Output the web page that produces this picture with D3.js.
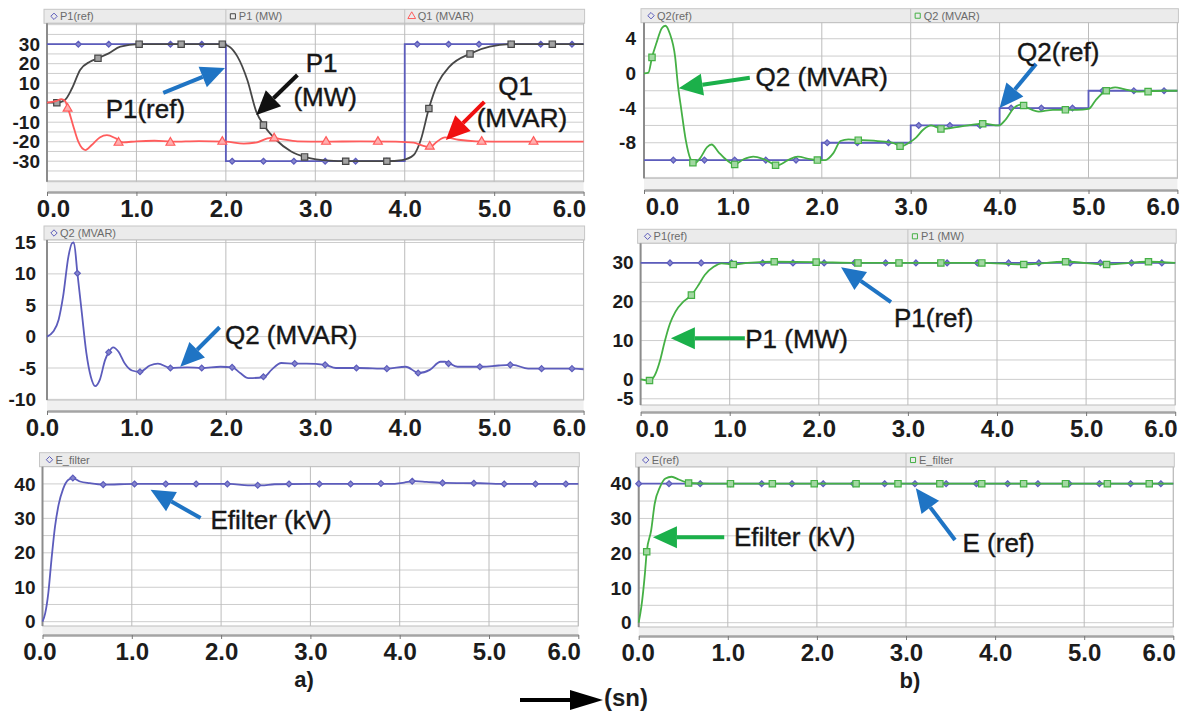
<!DOCTYPE html>
<html>
<head>
<meta charset="utf-8">
<title>P1 / Q1 / Q2 / E_filter</title>
<style>
    body { margin: 0; background: #fff; }
    svg { display: block; font-family: "Liberation Sans", Arial, sans-serif; }
    .xaxis .domain { stroke: #a4a4a4; stroke-width: 2.5; }
    .xaxis .tick line { stroke: #777; }
    .xaxis text { font-size: 24px; font-weight: bold; fill: #1c1c1c; }
    .yaxis .domain { display: none; }
    .yaxis text { font-size: 19px; font-weight: bold; fill: #1c1c1c; }
    .legend text { font-size: 11px; fill: #6a6a6a; }
    .note { font-size: 26px; fill: #161616; stroke: #161616; stroke-width: 0.4; }
</style>
</head>
<body>
<script src="https://d3js.org/d3.v7.min.js"></script>
<script>
// time axis (s)
var timeTicks = [0, 1, 2, 3, 4, 5, 6];
var timeLabels = ["0.0", "1.0", "2.0", "3.0", "4.0", "5.0", "6.0"];

// a) top: P1(ref), P1 (MW), Q1 (MVAR)
var ticksA1 = [30, 20, 10, 0, -10, -20, -30];
var p1RefA = [[0, 30], [2, -30], [4, 30], [6, 30]];
var p1RefAMarks = [[0.35, 30], [0.69, 30], [1.04, 30], [1.38, 30], [1.73, 30], [2.07, -30], [2.42, -30], [2.76, -30],
    [3.11, -30], [3.45, -30], [3.8, -30], [4.14, 30], [4.49, 30], [4.83, 30], [5.18, 30], [5.52, 30], [5.87, 30]];
var p1MwA = [[0, 0], [0.11, 0], [0.2, 1.4], [0.28, 7.4], [0.37, 16.8], [0.48, 21], [0.57, 22.8], [0.69, 25.3],
    [0.82, 28.7], [1.02, 30], [1.5, 30], [1.96, 30], [2.04, 28.7], [2.13, 23.6], [2.24, 11.6], [2.34, -4.6],
    [2.43, -12], [2.56, -19], [2.73, -25], [2.9, -28], [3.16, -29.7], [3.35, -30], [3.8, -30], [3.97, -29.4],
    [4.1, -26.8], [4.18, -19], [4.27, -3], [4.37, 10], [4.5, 18.5], [4.74, 25.3], [4.95, 28.7], [5.21, 30], [6, 30]];
var p1MwAMarks = [[0.11, 0], [0.57, 22.8], [1.03, 30], [1.5, 30], [1.96, 30], [2.42, -11.5], [2.88, -27.8],
    [3.34, -30], [3.8, -30], [4.27, -3], [4.73, 25], [5.19, 30], [5.65, 30]];
var q1A = [[0, 0], [0.1, 0.8], [0.16, 1.8], [0.2, 1], [0.24, -3.7], [0.29, -11.4], [0.35, -20], [0.43, -24.3],
    [0.5, -21.7], [0.59, -17.8], [0.67, -16.6], [0.77, -18.3], [0.85, -20.3], [1.0, -19.8], [1.2, -19.5],
    [1.4, -20], [1.7, -19.7], [2.0, -20], [2.2, -21], [2.35, -20.3], [2.5, -18], [2.6, -18.5], [2.8, -19.8],
    [3.1, -20], [3.5, -19.8], [3.9, -20], [4.1, -20.5], [4.2, -22], [4.28, -22.8], [4.36, -20], [4.45, -17.8],
    [4.6, -19], [4.8, -19.8], [5.2, -20], [6, -20]];
var q1AMarks = [[0.23, -3], [0.8, -20.5], [1.38, -20.5], [1.96, -20], [2.54, -18.3], [3.12, -20], [3.7, -20],
    [4.28, -22.5], [4.86, -20], [5.44, -20]];

// a) middle: Q2 (MVAR)
var ticksA2 = [15, 10, 5, 0, -5, -10];
var q2A = [[0, 0], [0.07, 0.8], [0.13, 2.7], [0.18, 6.4], [0.24, 12.8], [0.28, 14.9], [0.3, 15], [0.34, 10.1],
    [0.39, 3.7], [0.44, -2.6], [0.49, -6.4], [0.54, -7.9], [0.59, -6.9], [0.65, -3.7], [0.69, -2.5], [0.74, -1.7],
    [0.8, -2.4], [0.87, -4.3], [0.95, -5.4], [1.04, -5.6], [1.15, -4.6], [1.24, -4.3], [1.38, -5], [1.57, -4.9],
    [1.73, -5], [1.94, -4.8], [2.07, -4.9], [2.16, -5.8], [2.25, -6.6], [2.3, -6.6], [2.43, -6.4], [2.51, -5.3],
    [2.62, -4.2], [2.77, -4.3], [2.9, -4.3], [3.11, -4.5], [3.23, -5], [3.48, -5], [3.8, -5.1], [4.01, -4.8],
    [4.16, -5.8], [4.28, -5.3], [4.4, -4], [4.45, -4], [4.59, -4.8], [4.72, -4.8], [4.87, -4.8], [5.05, -4.6],
    [5.21, -4.5], [5.38, -5.1], [5.55, -5.1], [5.9, -5.1], [6, -5.2]];
var q2AMarks = [[0.34, 10.1], [0.69, -2.5], [1.04, -5.6], [1.38, -5], [1.73, -5], [2.07, -4.9], [2.42, -6.4],
    [2.77, -4.3], [3.11, -4.5], [3.46, -5], [3.8, -5.1], [4.15, -5.8], [4.49, -4.3], [4.84, -4.8], [5.18, -4.5],
    [5.53, -5.1], [5.87, -5.1]];

// a) bottom: E_filter
var ticksA3 = [40, 30, 20, 10, 0];
var efA = [[0, 0], [0.03, 2.4], [0.065, 8.3], [0.1, 17.9], [0.14, 27.6], [0.18, 33.9], [0.23, 38.5], [0.29, 41.2],
    [0.34, 41.7], [0.42, 40.7], [0.53, 40.2], [0.68, 39.8], [1.04, 40], [1.5, 40], [2.1, 40], [2.3, 39.6],
    [2.45, 39.6], [2.6, 39.9], [3.0, 40], [3.5, 40], [3.9, 40], [4.05, 40.4], [4.17, 40.8], [4.3, 40.6],
    [4.5, 40.3], [4.9, 40.2], [5.2, 40], [6, 40]];
var efAMarks = [[0.34, 41.7], [0.68, 39.8], [1.03, 40], [1.38, 40], [1.72, 40], [2.07, 40], [2.41, 39.6], [2.76, 40],
    [3.1, 40], [3.45, 40], [3.79, 40.1], [4.14, 40.8], [4.48, 40.3], [4.83, 40.2], [5.17, 40], [5.52, 40], [5.86, 40]];

// b) top: Q2(ref), Q2 (MVAR)
var ticksB1 = [4, 0, -4, -8];
var q2RefB = [[0, -10], [2, -8], [3, -6], [4, -4], [5, -2], [6, -2]];
var q2RefBMarks = [[0.33, -10], [0.68, -10], [1.02, -10], [1.37, -10], [1.71, -10], [2.06, -8], [2.4, -8], [2.75, -8],
    [3.09, -6], [3.44, -6], [3.78, -6], [4.13, -4], [4.47, -4], [4.82, -4], [5.16, -2], [5.51, -2], [5.85, -2]];
var q2B = [[0, 0], [0.05, 0.1], [0.09, 1.85], [0.14, 3.5], [0.2, 5.2], [0.24, 5.5], [0.29, 4.6], [0.35, 1.9],
    [0.38, -1.2], [0.42, -4.2], [0.47, -7.7], [0.52, -9.8], [0.57, -10.4], [0.63, -9.8], [0.71, -8.5], [0.76, -8.2],
    [0.84, -9.1], [0.93, -10], [1.02, -10.5], [1.12, -9.9], [1.23, -9.6], [1.35, -9.9], [1.5, -10.6], [1.62, -10],
    [1.73, -9.6], [1.87, -9.9], [1.98, -10], [2.04, -10], [2.13, -9.2], [2.21, -7.8], [2.3, -7.6], [2.46, -7.7],
    [2.63, -7.8], [2.8, -8], [2.89, -8.4], [2.98, -8], [3.06, -7.4], [3.14, -6.5], [3.23, -6], [3.35, -6.4],
    [3.57, -6.1], [3.82, -5.8], [3.99, -6], [4.07, -5.3], [4.16, -4], [4.24, -3.6], [4.32, -4], [4.44, -4.4],
    [4.6, -4.2], [4.75, -4.2], [4.87, -4.2], [5.0, -4.1], [5.08, -3.1], [5.19, -2], [5.3, -1.6], [5.4, -1.8],
    [5.55, -2.1], [5.85, -2], [6, -2]];
var q2BMarks = [[0.09, 1.85], [0.55, -10.3], [1.02, -10.5], [1.48, -10.6], [1.95, -10], [2.41, -7.7], [2.88, -8.4],
    [3.34, -6.4], [3.81, -5.8], [4.27, -3.7], [4.74, -4.2], [5.2, -2], [5.67, -2.1]];

// b) middle: P1(ref), P1 (MW)
var ticksB2 = [30, 20, 10, 0, -5];
var p1RefB = [[0, 30], [6, 30]];
var p1RefBMarks = [[0.33, 30], [0.68, 30], [1.02, 30], [1.37, 30], [1.71, 30], [2.06, 30], [2.4, 30], [2.75, 30],
    [3.09, 30], [3.44, 30], [3.78, 30], [4.13, 30], [4.47, 30], [4.82, 30], [5.16, 30], [5.51, 30], [5.85, 30]];
var p1MwB = [[0, 0], [0.1, -0.3], [0.16, 1.1], [0.22, 5], [0.27, 9.7], [0.33, 14.4], [0.39, 17.4], [0.48, 20],
    [0.57, 21.7], [0.65, 24.3], [0.72, 26.9], [0.82, 29], [0.91, 29.9], [1.04, 29.6], [1.2, 30], [1.5, 30.3],
    [1.97, 30.2], [2.44, 30], [2.9, 30], [3.37, 30], [3.83, 30], [4.3, 29.6], [4.77, 30.3], [5.23, 29.6],
    [5.7, 30.3], [6, 30]];
var p1MwBMarks = [[0.1, -0.3], [0.57, 21.7], [1.04, 29.6], [1.5, 30.3], [1.97, 30.2], [2.44, 30], [2.9, 30],
    [3.37, 30], [3.83, 30], [4.3, 29.6], [4.77, 30.3], [5.23, 29.6], [5.7, 30.3]];

// b) bottom: E(ref), E_filter
var ticksB3 = [40, 30, 20, 10, 0];
var eRefB = [[0, 40], [6, 40]];
var eRefBMarks = [[0, 40], [0.34, 40], [0.69, 40], [1.03, 40], [1.38, 40], [1.72, 40], [2.07, 40], [2.41, 40],
    [2.76, 40], [3.1, 40], [3.45, 40], [3.79, 40], [4.14, 40], [4.48, 40], [4.83, 40], [5.17, 40], [5.52, 40], [5.86, 40]];
var efB = [[0, 0], [0.03, 4.6], [0.07, 14.2], [0.09, 20.4], [0.14, 26.6], [0.18, 34.3], [0.24, 39.1], [0.3, 41.5],
    [0.37, 42], [0.45, 41.2], [0.56, 40.2], [0.8, 40], [1.5, 40], [3, 40], [4.5, 40], [6, 40]];
var efBMarks = [[0.09, 20.4], [0.56, 40.2], [1.03, 40], [1.5, 40], [1.97, 40], [2.44, 40], [2.91, 40], [3.38, 40],
    [3.85, 40], [4.32, 40], [4.79, 40], [5.26, 40], [5.73, 40]];

var blue = "#5c5cbc", gray = "#474747", red = "#ff5c5c", green = "#45b045";
var noteBlue = "#1f74c4", noteGreen = "#1bb04a", noteRed = "#f01010", noteBlack = "#111";

// panel layout (pixels) + series
var panels = [
    {x0: 47, x1: 583.6, y0: 23.3, y1: 181.7, yDom: [-40.5, 40.7], grid: 5, ticks: ticksA1, axisY: 192, firstShift: 6, yPad: 7,
        series: [
            {name: "P1(ref)", data: p1RefA, marks: p1RefAMarks, color: blue, shape: "diamond", step: true},
            {name: "P1 (MW)", data: p1MwA, marks: p1MwAMarks, color: gray, shape: "square"},
            {name: "Q1 (MVAR)", data: q1A, marks: q1AMarks, color: red, shape: "triangle"}
        ],
        notes: [
            {text: "P1(ref)", t: 1.1, v: -2.8},
            {text: "P1", t: 3.07, v: 20.4},
            {text: "(MW)", t: 3.11, v: 3.0},
            {text: "Q1", t: 5.24, v: 8.6},
            {text: "(MVAR)", t: 5.31, v: -7.6}
        ],
        arrows: [
            {from: [1.3, 5.0], to: [1.99, 17.8], color: noteBlue},
            {from: [2.8, 14.2], to: [2.34, -6.3], color: noteBlack},
            {from: [4.89, 0.4], to: [4.46, -19.1], color: noteRed}
        ]},
    {x0: 47, x1: 583.6, y0: 240, y1: 400, yDom: [-10.1, 15.4], grid: 5, ticks: ticksA2, axisY: 411, firstShift: -5, yPad: 11,
        series: [
            {name: "Q2 (MVAR)", data: q2A, marks: q2AMarks, color: blue, shape: "diamond"}
        ],
        notes: [{text: "Q2 (MVAR)", t: 2.73, v: 0.3}],
        arrows: [{from: [1.93, 1.5], to: [1.49, -4.8], color: noteBlue}]},
    {x0: 42.5, x1: 578.3, y0: 466.7, y1: 626, yDom: [-1.25, 45], grid: 5, ticks: ticksA3, axisY: 635, firstShift: -3, yPad: 7,
        series: [
            {name: "E_filter", data: efA, marks: efAMarks, color: blue, shape: "diamond"}
        ],
        notes: [{text: "Efilter (kV)", t: 2.56, v: 29.6}],
        arrows: [{from: [1.77, 30.1], to: [1.21, 38.3], color: noteBlue}]},
    {x0: 644, x1: 1177.4, y0: 22.7, y1: 178.3, yDom: [-12.1, 5.85], grid: 2, ticks: ticksB1, axisY: 190, firstShift: 18, yPad: 8,
        series: [
            {name: "Q2(ref)", data: q2RefB, marks: q2RefBMarks, color: blue, shape: "diamond", step: true},
            {name: "Q2 (MVAR)", data: q2B, marks: q2BMarks, color: green, shape: "square"}
        ],
        notes: [
            {text: "Q2 (MVAR)", t: 2.0, v: -0.4},
            {text: "Q2(ref)", t: 4.66, v: 2.5}
        ],
        arrows: [
            {from: [1.19, -0.5], to: [0.39, -1.7], color: noteGreen},
            {from: [4.41, 1.1], to: [4.0, -4.0], color: noteBlue}
        ]},
    {x0: 640.6, x1: 1175.2, y0: 243.3, y1: 405, yDom: [-6.6, 35.05], grid: 5, ticks: ticksB2, axisY: 412, firstShift: 11, yPad: 7,
        series: [
            {name: "P1(ref)", data: p1RefB, marks: p1RefBMarks, color: blue, shape: "diamond"},
            {name: "P1 (MW)", data: p1MwB, marks: p1MwBMarks, color: green, shape: "square"}
        ],
        notes: [
            {text: "P1 (MW)", t: 1.75, v: 10.6},
            {text: "P1(ref)", t: 3.29, v: 16}
        ],
        arrows: [
            {from: [1.17, 10.6], to: [0.34, 10.6], color: noteGreen},
            {from: [2.81, 19.9], to: [2.25, 28.9], color: noteBlue}
        ]},
    {x0: 638.7, x1: 1173.3, y0: 467, y1: 627, yDom: [-1.24, 44.8], grid: 5, ticks: ticksB3, axisY: 636, firstShift: -1, yPad: 7,
        series: [
            {name: "E(ref)", data: eRefB, marks: eRefBMarks, color: blue, shape: "diamond"},
            {name: "E_filter", data: efB, marks: efBMarks, color: green, shape: "square"}
        ],
        notes: [
            {text: "Efilter (kV)", t: 1.75, v: 24.9},
            {text: "E (ref)", t: 4.04, v: 22.9}
        ],
        arrows: [
            {from: [0.96, 24.6], to: [0.16, 24.6], color: noteGreen},
            {from: [3.55, 23.8], to: [3.11, 38.7], color: noteBlue}
        ]}
];

var shapes = {diamond: d3.symbolDiamond2 || d3.symbolDiamond, square: d3.symbolSquare, triangle: d3.symbolTriangle};
var markSize = {diamond: 22, square: 40, triangle: 34};

var svg = d3.select("body")
    .append("svg")
    .attr("width", 1189)
    .attr("height", 714);

// arrow: thick shaft + filled head
function arrow(g, x1, y1, x2, y2, color, len, half, w) {
    var a = Math.atan2(y2 - y1, x2 - x1);
    var bx = x2 - len * Math.cos(a), by = y2 - len * Math.sin(a);
    g.append("line")
        .attr("x1", x1).attr("y1", y1)
        .attr("x2", bx).attr("y2", by)
        .attr("stroke", color)
        .attr("stroke-width", w);
    g.append("path")
        .attr("d", "M" + x2 + "," + y2 +
            "L" + (bx + half * Math.sin(a)) + "," + (by - half * Math.cos(a)) +
            "L" + (bx - half * Math.sin(a)) + "," + (by + half * Math.cos(a)) + "Z")
        .attr("fill", color);
}

panels.forEach(function(p) {
    var x = d3.scaleLinear().domain([0, 6]).range([p.x0, p.x1]);
    var y = d3.scaleLinear().domain(p.yDom).range([p.y1, p.y0]);
    var g = svg.append("g");
    var w = p.x1 - p.x0;

    // legend strip
    var lg = g.append("g").attr("class", "legend");
    lg.append("rect")
        .attr("x", p.x0 - 3).attr("y", p.y0 - 14)
        .attr("width", w + 4).attr("height", 14)
        .attr("fill", "#ebebeb")
        .attr("stroke", "#c6c6c6");
    var slot = w / p.series.length;
    p.series.forEach(function(s, i) {
        var lx = p.x0 + i * slot;
        if (i > 0) {
            lg.append("line")
                .attr("x1", lx).attr("x2", lx)
                .attr("y1", p.y0 - 14).attr("y2", p.y0)
                .attr("stroke", "#c2c2c2");
        }
        lg.append("path")
            .attr("d", d3.symbol().type(shapes[s.shape]).size(26)())
            .attr("transform", "translate(" + (lx + 7) + "," + (p.y0 - 7) + ")")
            .attr("fill", "none")
            .attr("stroke", s.color);
        lg.append("text")
            .attr("x", lx + 13)
            .attr("y", p.y0 - 3)
            .text(s.name);
    });

    // plot area
    g.append("rect")
        .attr("x", p.x0).attr("y", p.y1)
        .attr("width", w).attr("height", p.axisY - p.y1)
        .attr("fill", "#f0f0f0");
    g.append("rect")
        .attr("x", p.x0).attr("y", p.y0)
        .attr("width", w).attr("height", p.y1 - p.y0)
        .attr("fill", "#fff")
        .attr("stroke", "#bdbdbd");

    // grid
    var gridVals = d3.range(Math.ceil(p.yDom[0] / p.grid) * p.grid, p.yDom[1], p.grid);
    g.append("g").selectAll("line")
        .data(gridVals)
        .enter()
        .append("line")
        .attr("x1", p.x0).attr("x2", p.x1)
        .attr("y1", function(d) { return y(d); })
        .attr("y2", function(d) { return y(d); })
        .attr("stroke", "#cdcdcd");
    g.append("g").selectAll("line")
        .data(timeTicks.slice(1))
        .enter()
        .append("line")
        .attr("x1", function(d) { return x(d); })
        .attr("x2", function(d) { return x(d); })
        .attr("y1", p.y0).attr("y2", p.y1)
        .attr("stroke", "#bcbcbc");
    g.append("line")
        .attr("x1", p.x0).attr("x2", p.x0)
        .attr("y1", p.y0).attr("y2", p.y1)
        .attr("stroke", "#8c8c8c")
        .attr("stroke-width", 2);

    // axes
    g.append("g")
        .attr("class", "yaxis")
        .attr("transform", "translate(" + (p.x0 - p.yPad) + ",0)")
        .call(d3.axisLeft(y).tickValues(p.ticks).tickSize(0).tickPadding(0)
            .tickFormat(function(d) { return String(d); }));

    var xa = g.append("g")
        .attr("class", "xaxis")
        .attr("transform", "translate(0," + p.axisY + ")")
        .call(d3.axisBottom(x).tickValues(timeTicks).tickSize(4).tickSizeOuter(0).tickPadding(4)
            .tickFormat(function(d, i) { return timeLabels[i]; }));
    xa.selectAll(".tick text")
        .filter(function(d, i) { return i === 0; })
        .attr("dx", p.firstShift);
    xa.selectAll(".tick text")
        .filter(function(d, i) { return i === timeTicks.length - 1; })
        .attr("text-anchor", "end")
        .attr("dx", 2);

    // curves + markers
    p.series.forEach(function(s) {
        var line = d3.line()
            .x(function(d) { return x(d[0]); })
            .y(function(d) { return y(d[1]); })
            .curve(s.step ? d3.curveStepAfter : d3.curveMonotoneX);
        g.append("path")
            .attr("d", line(s.data))
            .attr("fill", "none")
            .attr("stroke", s.color)
            .attr("stroke-width", 1.8);
        g.append("g").selectAll("path")
            .data(s.marks)
            .enter()
            .append("path")
            .attr("d", d3.symbol().type(shapes[s.shape]).size(markSize[s.shape]))
            .attr("transform", function(d) { return "translate(" + x(d[0]) + "," + y(d[1]) + ")"; })
            .attr("fill", s.shape === "diamond" ? d3.interpolateRgb(s.color, "#fff")(0.25) : d3.interpolateRgb(s.color, "#fff")(0.5))
            .attr("stroke", s.color)
            .attr("stroke-width", 1.2);
    });

    // annotations
    p.arrows.forEach(function(a) {
        arrow(g, x(a.from[0]), y(a.from[1]), x(a.to[0]), y(a.to[1]), a.color, 24, 11, 4);
    });
    g.selectAll(".note")
        .data(p.notes)
        .enter()
        .append("text")
        .attr("class", "note")
        .attr("x", function(d) { return x(d.t); })
        .attr("y", function(d) { return y(d.v); })
        .attr("dy", "0.36em")
        .attr("text-anchor", "middle")
        .text(function(d) { return d.text; });
});

// sub-captions and time arrow
svg.append("text")
    .attr("x", 304).attr("y", 687)
    .attr("text-anchor", "middle")
    .attr("font-size", 22).attr("font-weight", "bold").attr("fill", "#1c1c1c")
    .text("a)");
svg.append("text")
    .attr("x", 910).attr("y", 688)
    .attr("text-anchor", "middle")
    .attr("font-size", 22).attr("font-weight", "bold").attr("fill", "#1c1c1c")
    .text("b)");
arrow(svg, 520, 700, 603, 700, "#000", 33, 10, 4);
svg.append("text")
    .attr("x", 604).attr("y", 706)
    .attr("font-size", 24).attr("font-weight", "bold").attr("fill", "#1c1c1c")
    .text("(sn)");
</script>
</body>
</html>
